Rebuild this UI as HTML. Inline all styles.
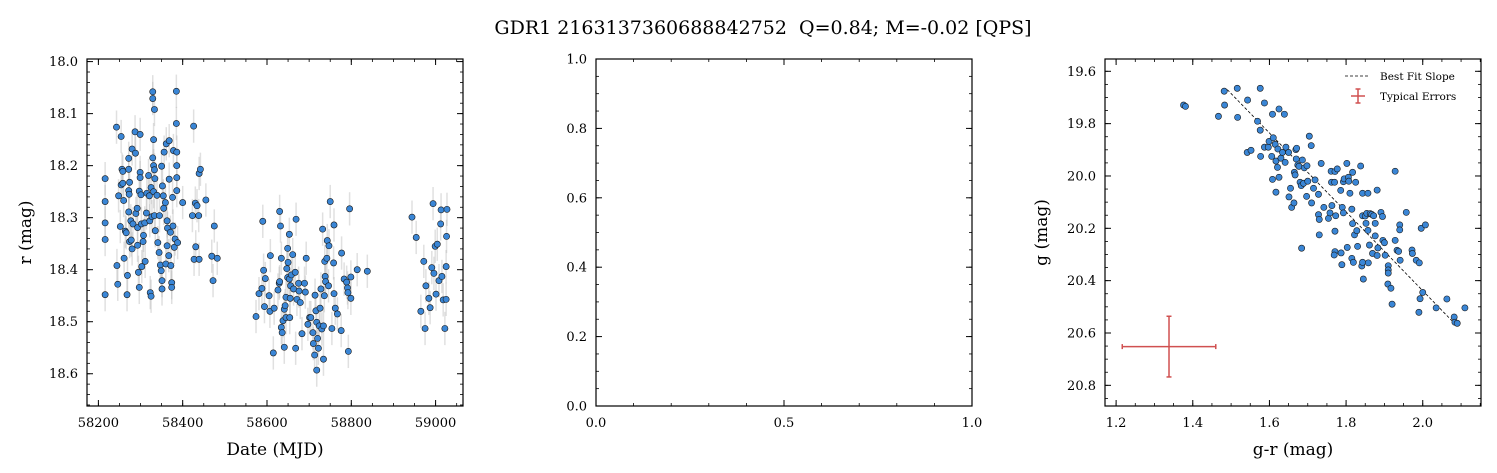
<!DOCTYPE html>
<html><head><meta charset="utf-8">
<style>
html,body{margin:0;padding:0;background:#fff;}
svg{display:block;font-family:"DejaVu Serif","Liberation Serif",serif;}
</style></head>
<body>
<svg id="fig" width="1497" height="473" viewBox="0 0 1497 473" xmlns="http://www.w3.org/2000/svg">
<text x="763" y="34" font-size="19" text-anchor="middle" xml:space="preserve" style="white-space:pre">GDR1 2163137360688842752  Q=0.84; M=-0.02 [QPS]</text>
</svg>
<script>
// ---------- Panel 1 data: light curve ----------
const mjd = [58216,58216,58216,58216,58216,58243,58254,58244,58246,58252,58248,58256,58258,58260,58254,58258,58261,58264,58266,58268,58269,58272,58272,58272,58273,58274,58272,58274,58277,58280,58278,58280,58282,58287,58288,58289,58292,58293,58293,58295,58297,58299,58299,58299,58297,58301,58302,58303,58306,58307,58310,58311,58314,58315,58319,58321,58322,58323,58325,58325,58327,58329,58329,58333,58331,58329,58331,58333,58334,58331,58333,58335,58339,58341,58344,58345,58347,58350,58349,58351,58351,58352,58354,58355,58356,58359,58360,58361,58363,58363,58364,58367,58368,58368,58371,58372,58374,58374,58376,58377,58378,58380,58382,58385,58385,58386,58386,58386,58386,58388,58400,58423,58426,58427,58430,58431,58434,58438,58439,58439,58442,58455,58469,58472,58475,58482,
58574,58581,58588,58590,58592,58594,58596,58605,58607,58608,58615,58617,58626,58629,58630,58630,58632,58634,58634,58636,58638,58641,58641,58643,58645,58645,58647,58649,58649,58650,58653,58653,58654,58655,58656,58658,58661,58663,58667,58668,58669,58671,58675,58676,58679,58683,58689,58691,58693,58697,58701,58704,58709,58710,58713,58714,58716,58718,58718,58720,58722,58724,58726,58728,58730,58732,58734,58734,58736,58737,58738,58739,58742,58743,58746,58747,58750,58754,58758,58759,58759,58762,58767,58776,58777,58783,58789,58791,58792,58793,58796,58799,58799,58814,58838,
58944,58954,58965,58972,58975,58977,58984,58987,58991,58994,58996,58999,59001,59004,59008,59012,59013,59015,59018,59022,59025,59025,59026,59027];
const rmag = [18.225,18.269,18.310,18.342,18.448,18.126,18.144,18.392,18.428,18.317,18.258,18.207,18.211,18.267,18.237,18.234,18.378,18.326,18.329,18.448,18.411,18.186,18.207,18.248,18.255,18.232,18.289,18.346,18.306,18.168,18.343,18.360,18.312,18.135,18.176,18.292,18.282,18.319,18.353,18.405,18.434,18.140,18.213,18.223,18.249,18.256,18.312,18.394,18.346,18.334,18.310,18.384,18.291,18.253,18.219,18.258,18.306,18.444,18.451,18.242,18.298,18.058,18.071,18.092,18.150,18.185,18.200,18.208,18.225,18.250,18.296,18.325,18.257,18.348,18.367,18.296,18.391,18.201,18.402,18.421,18.437,18.239,18.258,18.282,18.174,18.271,18.389,18.158,18.306,18.354,18.320,18.373,18.152,18.226,18.328,18.392,18.425,18.434,18.261,18.316,18.171,18.357,18.341,18.057,18.119,18.174,18.200,18.223,18.248,18.348,18.271,18.296,18.124,18.380,18.272,18.356,18.277,18.296,18.215,18.380,18.207,18.266,18.374,18.421,18.316,18.378,
18.490,18.446,18.436,18.307,18.401,18.471,18.417,18.450,18.480,18.373,18.560,18.474,18.439,18.426,18.288,18.423,18.316,18.378,18.511,18.521,18.498,18.549,18.476,18.469,18.453,18.492,18.398,18.415,18.359,18.386,18.332,18.418,18.492,18.455,18.431,18.410,18.371,18.437,18.405,18.551,18.303,18.457,18.426,18.441,18.463,18.523,18.426,18.443,18.378,18.505,18.492,18.492,18.521,18.542,18.564,18.449,18.479,18.593,18.501,18.532,18.551,18.508,18.474,18.437,18.514,18.322,18.572,18.508,18.450,18.384,18.413,18.423,18.378,18.344,18.431,18.354,18.269,18.513,18.387,18.314,18.446,18.474,18.485,18.517,18.368,18.418,18.424,18.435,18.444,18.557,18.283,18.455,18.414,18.400,18.403,
18.299,18.338,18.480,18.384,18.513,18.431,18.455,18.473,18.396,18.273,18.407,18.355,18.447,18.351,18.421,18.312,18.285,18.413,18.458,18.513,18.457,18.394,18.336,18.284];
const rErr = 0.032;
const p1XTicks = [58200,58400,58600,58800,59000];
const p1YTicks = [18.0,18.1,18.2,18.3,18.4,18.5,18.6];

// ---------- Panel 3 data: colour-magnitude ----------
const gr = [1.376,1.381,1.467,1.482,1.483,1.516,1.517,1.543,1.542,1.552,1.569,1.576,1.576,1.577,1.587,1.587,1.597,1.599,1.606,1.608,1.608,1.610,1.615,1.617,1.617,1.621,1.622,1.625,1.625,1.630,1.634,1.639,1.641,1.643,1.650,1.655,1.651,1.658,1.664,1.665,1.667,1.669,1.670,1.671,1.674,1.677,1.680,1.683,1.684,1.686,1.689,1.691,1.697,1.698,1.700,1.704,1.709,1.710,1.715,1.719,1.728,1.728,1.730,1.730,1.735,1.742,1.754,1.758,1.761,1.762,1.763,1.770,1.771,1.771,1.773,1.771,1.769,1.777,1.787,1.786,1.789,1.790,1.793,1.793,1.795,1.802,1.806,1.803,1.807,1.810,1.815,1.815,1.817,1.817,1.819,1.822,1.825,1.828,1.830,1.838,1.841,1.843,1.845,1.843,1.843,1.850,1.852,1.854,1.857,1.858,1.857,1.861,1.863,1.867,1.869,1.872,1.876,1.876,1.881,1.881,1.883,1.891,1.895,1.896,1.900,1.902,1.910,1.910,1.910,1.909,1.917,1.920,1.928,1.928,1.933,1.937,1.940,1.940,1.941,1.957,1.972,1.973,1.983,1.991,1.993,1.990,1.996,2.000,2.007,2.035,2.063,2.082,2.084,2.090,2.110];
const gmag = [19.729,19.734,19.772,19.676,19.729,19.665,19.776,19.710,19.910,19.902,19.791,19.665,19.825,19.925,19.721,19.890,19.890,19.868,19.925,19.764,20.013,19.854,19.879,19.943,20.062,19.967,19.897,20.005,19.744,19.932,19.910,19.764,19.948,19.890,19.910,20.047,20.080,20.120,20.103,19.986,19.996,19.899,19.935,19.894,19.958,19.963,20.024,20.037,20.276,19.939,20.028,19.969,20.078,19.961,20.020,19.848,19.884,20.103,20.047,20.015,20.148,20.070,20.166,20.225,19.952,20.120,20.162,20.141,19.982,20.024,20.113,20.024,20.211,19.983,20.152,20.289,20.302,19.973,20.294,20.055,20.339,20.120,20.022,20.141,20.011,19.952,20.005,20.273,20.020,20.066,20.127,20.315,20.182,19.986,20.330,20.225,20.024,20.209,20.269,19.962,20.344,20.330,20.394,20.066,20.152,20.153,20.181,20.143,20.066,20.332,20.208,20.264,20.144,20.147,20.296,20.152,20.229,20.181,20.054,20.304,20.275,20.139,20.155,20.246,20.255,20.303,20.343,20.359,20.371,20.413,20.429,20.490,19.982,20.246,20.284,20.288,20.187,20.206,20.322,20.139,20.283,20.296,20.322,20.332,20.469,20.521,20.200,20.445,20.187,20.504,20.470,20.539,20.559,20.563,20.504];
const fitX = [1.490,2.076];
const fitY = [19.670,20.553];
const typErrCenter = [1.338,20.652];
const typErrSize = [0.122,0.116];
const p3XTicks = [1.2,1.4,1.6,1.8,2.0];
const p3YTicks = [19.6,19.8,20.0,20.2,20.4,20.6,20.8];

// ---------- Panel 2 ticks ----------
const p2XTicks = [0.0,0.5,1.0];
const p2YTicks = [0.0,0.2,0.4,0.6,0.8,1.0];

const NS='http://www.w3.org/2000/svg';
const svg=document.getElementById('fig');
function mk(tag,attrs,parent){const e=document.createElementNS(NS,tag);for(const k in attrs)e.setAttribute(k,attrs[k]);(parent||svg).appendChild(e);return e;}
function lin(d0,d1,p0,p1){return v=>p0+(v-d0)*(p1-p0)/(d1-d0);}

function axesFrame(g,L,T,W,H,xs,ys,xMaj,yMaj,xMin,yMin,xDom,yDom,xFmt,yFmt){
  for(let v=Math.ceil(xDom[0]/xMin-1e-9)*xMin; v<=xDom[1]+1e-9; v+=xMin){
    const x=xs(v);
    const t1=mk('line',{x1:x,x2:x,y1:T+H,y2:T+H-3,stroke:'#000','stroke-width':0.8},g);
    
    
    const t2=mk('line',{x1:x,x2:x,y1:T,y2:T+3,stroke:'#000','stroke-width':0.8},g);
    
    
  }
  for(let v=Math.ceil(Math.min(...yDom)/yMin-1e-9)*yMin; v<=Math.max(...yDom)+1e-9; v+=yMin){
    const y=ys(v);
    const t1=mk('line',{x1:L,x2:L+3,y1:y,y2:y,stroke:'#000','stroke-width':0.8},g);
    
    
    const t2=mk('line',{x1:L+W,x2:L+W-3,y1:y,y2:y,stroke:'#000','stroke-width':0.8},g);
    
    
  }
  xMaj.forEach(v=>{
    const x=xs(v);
    const a=mk('line',{x1:x,x2:x,y1:T+H,y2:T+H-6,stroke:'#000','stroke-width':1},g);
    
    
    const b=mk('line',{x1:x,x2:x,y1:T,y2:T+6,stroke:'#000','stroke-width':1},g);
    
    
    const t=mk('text',{x:x,y:T+H+21,'font-size':13,'text-anchor':'middle'},g);
    t.textContent=xFmt(v);
    
    
  });
  yMaj.forEach(v=>{
    const y=ys(v);
    const a=mk('line',{x1:L,x2:L+6,y1:y,y2:y,stroke:'#000','stroke-width':1},g);
    
    
    const b=mk('line',{x1:L+W,x2:L+W-6,y1:y,y2:y,stroke:'#000','stroke-width':1},g);
    
    
    const t=mk('text',{x:L-9,y:y+4.5,'font-size':13,'text-anchor':'end'},g);
    t.textContent=yFmt(v);
    
    
  });
  const r=mk('rect',{x:L,y:T,width:W,height:H,fill:'none',stroke:'#000','stroke-width':1.2},g);
  
  
}

// ---------- Panel 1 ----------
(function(){
  const L=87,T=59,W=376,H=347;
  const xs=lin(58173,59065,L,L+W), ys=lin(17.995,18.662,T,T+H);
  const g=mk('g',{});
  
  
  const eg=mk('g',{},g);
  
  
  mjd.forEach((m,i)=>{
    const l=mk('line',{x1:xs(m),x2:xs(m),y1:ys(rmag[i]-rErr),y2:ys(rmag[i]+rErr),stroke:'#bbb','stroke-opacity':0.45,'stroke-width':1.5},eg);
    
    
  });
  mjd.forEach((m,i)=>{
    const c=mk('circle',{cx:xs(m),cy:ys(rmag[i]),r:3.1,fill:'#3a86d6',stroke:'#1b1b1b','stroke-width':0.6},g);
    
    
  });
  axesFrame(g,L,T,W,H,xs,ys,p1XTicks,p1YTicks,50,0.02,[58173,59065],[17.995,18.662],v=>String(v),v=>v.toFixed(1));
  const xl=mk('text',{x:L+W/2,y:455,'font-size':17,'text-anchor':'middle'},g);
  xl.textContent='Date (MJD)';
  
  
  const yl=mk('text',{x:0,y:0,'font-size':17,'text-anchor':'middle',transform:'translate(31,'+(T+H/2)+') rotate(-90)'},g);
  yl.textContent='r (mag)';
  
  
})();

// ---------- Panel 2 ----------
(function(){
  const L=596,T=59,W=376,H=347;
  const xs=lin(0,1,L,L+W), ys=lin(1,0,T,T+H);
  const g=mk('g',{});
  
  
  axesFrame(g,L,T,W,H,xs,ys,p2XTicks,p2YTicks,0.1,0.05,[0,1],[0,1],v=>v.toFixed(1),v=>v.toFixed(1));
})();

// ---------- Panel 3 ----------
(function(){
  const L=1105,T=59,W=376,H=347;
  const xs=lin(1.171,2.152,L,L+W), ys=lin(19.553,20.879,T,T+H);
  const g=mk('g',{});
  
  
  const fl=mk('line',{x1:xs(fitX[0]),y1:ys(fitY[0]),x2:xs(fitX[1]),y2:ys(fitY[1]),stroke:'#000','stroke-width':0.8,'stroke-dasharray':'3,2'},g);
  
  
  gr.forEach((v,i)=>{
    const c=mk('circle',{cx:xs(v),cy:ys(gmag[i]),r:3.1,fill:'#3a86d6',stroke:'#1b1b1b','stroke-width':0.6},g);
    
    
  });
  const eg=mk('g',{stroke:'#d05050','stroke-width':1.5},g);
  
  
  const cx=xs(typErrCenter[0]), cy=ys(typErrCenter[1]);
  const x0=xs(typErrCenter[0]-typErrSize[0]), x1=xs(typErrCenter[0]+typErrSize[0]);
  const y0=ys(typErrCenter[1]-typErrSize[1]), y1=ys(typErrCenter[1]+typErrSize[1]);
  mk('line',{x1:x0,x2:x1,y1:cy,y2:cy},eg);mk('line',{x1:cx,x2:cx,y1:y0,y2:y1},eg);
  mk('line',{x1:x0,x2:x0,y1:cy-2.5,y2:cy+2.5},eg);mk('line',{x1:x1,x2:x1,y1:cy-2.5,y2:cy+2.5},eg);
  mk('line',{x1:cx-2.5,x2:cx+2.5,y1:y0,y2:y0},eg);mk('line',{x1:cx-2.5,x2:cx+2.5,y1:y1,y2:y1},eg);
  axesFrame(g,L,T,W,H,xs,ys,p3XTicks,p3YTicks,0.05,0.05,[1.171,2.152],[19.553,20.879],v=>v.toFixed(1),v=>v.toFixed(1));
  const lg=mk('g',{},g);
  
  
  const ll=mk('line',{x1:1345,x2:1370,y1:76,y2:76,stroke:'#000','stroke-width':0.8,'stroke-dasharray':'3,2'},lg);
  
  
  const t1=mk('text',{x:1380,y:80,'font-size':10.5},lg);
  t1.textContent='Best Fit Slope';
  
  
  const sw=mk('g',{stroke:'#d05050','stroke-width':1.5},lg);
  
  
  mk('line',{x1:1351,x2:1365,y1:96,y2:96},sw);mk('line',{x1:1358,x2:1358,y1:89,y2:103},sw);
  mk('line',{x1:1355.5,x2:1360.5,y1:89,y2:89},sw);mk('line',{x1:1355.5,x2:1360.5,y1:103,y2:103},sw);
  const t2=mk('text',{x:1380,y:100,'font-size':10.5},lg);
  t2.textContent='Typical Errors';
  
  
  const xl=mk('text',{x:L+W/2,y:455,'font-size':17,'text-anchor':'middle'},g);
  xl.textContent='g-r (mag)';
  
  
  const yl=mk('text',{x:0,y:0,'font-size':17,'text-anchor':'middle',transform:'translate(1047,'+(T+H/2)+') rotate(-90)'},g);
  yl.textContent='g (mag)';
  
  
})();
</script>
</body></html>
